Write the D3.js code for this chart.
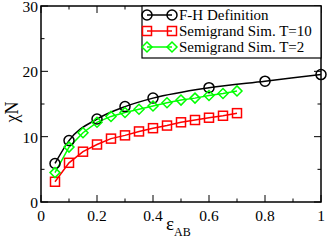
<!DOCTYPE html>
<html><head><meta charset="utf-8">
<script src="https://cdn.jsdelivr.net/npm/d3@7"></script>
<style>
html,body{margin:0;padding:0;background:#fff;}
svg{display:block;}
</style></head>
<body>
<svg id="c" width="327" height="240"></svg>
<script>
const fhX = [0.05, 0.1, 0.2, 0.3, 0.4, 0.6, 0.8, 1.0];
const fhY = [5.9, 9.4, 12.7, 14.6, 15.9, 17.5, 18.5, 19.5];
const simX = [0.05,0.1,0.15,0.2,0.25,0.3,0.35,0.4,0.45,0.5,0.55,0.6,0.65,0.7];
const t10Y = [3.1,6.0,7.7,8.8,9.7,10.2,10.8,11.3,11.7,12.2,12.55,12.9,13.2,13.6];
const t2Y  = [4.5,8.4,10.6,12.2,13.1,13.7,14.2,14.7,15.2,15.6,15.9,16.3,16.6,17.0];
const xTicks = [0,0.2,0.4,0.6,0.8,1];
const xTickLabels = ["0","0.2","0.4","0.6","0.8","1"];
const yTicks = [0,10,20,30];
const legendNames = ["F-H Definition","Semigrand Sim. T=10","Semigrand Sim. T=2"];

const FF = '"Liberation Serif","Times New Roman",Tinos,"Noto Serif","DejaVu Serif",FreeSerif,serif';
const svg = d3.select("#c");
const L=41, R=321, T=6, B=202;
const x = d3.scaleLinear().domain([0,1]).range([L,R]);
const y = d3.scaleLinear().domain([0,30]).range([B,T]);

const g = svg.append("g").attr("stroke","#000").attr("stroke-width",1);
const xMinor = d3.range(0,1.0001,0.1);
xMinor.forEach(v=>{
  const major = xTicks.some(t=>Math.abs(t-v)<1e-6);
  const len = major?7:3.5;
  g.append("line").attr("x1",x(v)).attr("x2",x(v)).attr("y1",B).attr("y2",B-len);
  g.append("line").attr("x1",x(v)).attr("x2",x(v)).attr("y1",T).attr("y2",T+len);
});
const yMinor = d3.range(0,30.001,5);
yMinor.forEach(v=>{
  const major = yTicks.includes(v);
  const len = major?7:3.5;
  g.append("line").attr("y1",y(v)).attr("y2",y(v)).attr("x1",L).attr("x2",L+len);
  g.append("line").attr("y1",y(v)).attr("y2",y(v)).attr("x1",R).attr("x2",R-len);
});
svg.append("rect").attr("x",L).attr("y",T).attr("width",R-L).attr("height",B-T)
  .attr("fill","none").attr("stroke","#000").attr("stroke-width",1.5);

xTicks.forEach((v,i)=>{
  svg.append("text").attr("x",x(v)).attr("y",B+19).attr("text-anchor","middle")
    .attr("font-family",FF).attr("font-size",15.5).text(xTickLabels[i]);
});
yTicks.forEach(v=>{
  svg.append("text").attr("x",L-3).attr("y",y(v)+6).attr("text-anchor","end")
    .attr("font-family",FF).attr("font-size",15.5).text(v);
});
svg.append("text").attr("transform","translate(18,112) rotate(-90)").attr("text-anchor","middle")
  .attr("font-family",FF).attr("font-size",18).text("χN");
const xt = svg.append("text").attr("x",166).attr("y",230).attr("font-family",FF).attr("font-size",19);
xt.append("tspan").text("ε");
xt.append("tspan").attr("font-size",12).attr("dy",6).text("AB");

const fh = fhX.map((v,i)=>[v,fhY[i]]);
const t10 = simX.map((v,i)=>[v,t10Y[i]]);
const t2 = simX.map((v,i)=>[v,t2Y[i]]);
const line = d3.line().x(d=>x(d[0])).y(d=>y(d[1]));
const curve = d3.line().x(d=>x(d[0])).y(d=>y(d[1])).curve(d3.curveMonotoneX);

svg.append("path").attr("d",curve(fh)).attr("fill","none").attr("stroke","#000").attr("stroke-width",1.5);
svg.append("path").attr("d",line(t10)).attr("fill","none").attr("stroke","#ff0000").attr("stroke-width",1.5);
svg.append("path").attr("d",line(t2)).attr("fill","none").attr("stroke","#00ff00").attr("stroke-width",1.5);

function circ(sel,cx,cy){sel.append("circle").attr("cx",cx).attr("cy",cy).attr("r",5)
  .attr("fill","none").attr("stroke","#000").attr("stroke-width",1.5);}
function sq(sel,cx,cy){sel.append("rect").attr("x",cx-4.5).attr("y",cy-4.5).attr("width",9).attr("height",9)
  .attr("fill","none").attr("stroke","#ff0000").attr("stroke-width",1.5);}
function dia(sel,cx,cy){sel.append("path").attr("d",`M${cx-5},${cy}L${cx},${cy-5}L${cx+5},${cy}L${cx},${cy+5}Z`)
  .attr("fill","none").attr("stroke","#00ff00").attr("stroke-width",1.5);}

fh.forEach(d=>circ(svg,x(d[0]),y(d[1])));
t10.forEach(d=>sq(svg,x(d[0]),y(d[1])));
t2.forEach(d=>dia(svg,x(d[0]),y(d[1])));

const lg = svg.append("g");
lg.append("rect").attr("x",142).attr("y",6).attr("width",179).attr("height",52)
  .attr("fill","#fff").attr("stroke","#000").attr("stroke-width",1.2);
const colors=["#000","#ff0000","#00ff00"];
const marks=[circ,sq,dia];
legendNames.forEach((n,i)=>{
  const yy = 15 + i*16;
  lg.append("line").attr("x1",147).attr("x2",172).attr("y1",yy).attr("y2",yy)
    .attr("stroke",colors[i]).attr("stroke-width",1.5);
  marks[i](lg,147,yy); marks[i](lg,172,yy);
  lg.append("text").attr("x",179).attr("y",yy+5).attr("font-family",FF).attr("font-size",15).text(n);
});
</script>
</body></html>
